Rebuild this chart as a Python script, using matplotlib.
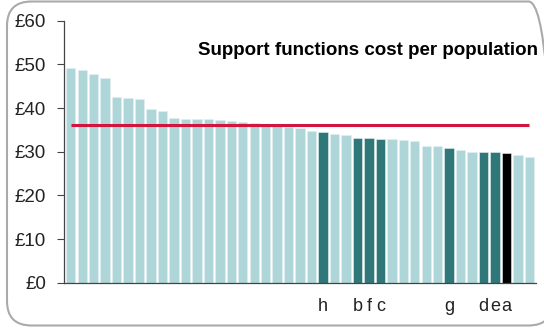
import numpy as np
import matplotlib
matplotlib.use('Agg')
import matplotlib.pyplot as plt
from matplotlib.patches import FancyBboxPatch

plt.rc('font', family=['Liberation Sans', 'DejaVu Sans'])

# cost per head for each authority, sorted high to low
costs = [49.2, 48.8, 47.8, 46.9, 42.5, 42.2, 42.1, 39.8, 39.4, 37.8,
         37.6, 37.6, 37.5, 37.2, 37.0, 36.9, 36.6, 36.4, 36.0, 35.6,
         35.5, 34.7, 34.5, 34.0, 33.8, 33.1, 33.1, 32.9, 32.8, 32.6,
         32.4, 31.3, 31.2, 30.8, 30.3, 30.0, 29.9, 29.9, 29.6, 29.2,
         28.8]
# '' = other authority, letter = highlighted one
labels = [''] * 22 + ['h', '', '', 'b', 'f', 'c', '', '', '', '', '',
                      'g', '', '', 'd', 'e', 'a', '', '']
average = 36.1
yticks = [0, 10, 20, 30, 40, 50, 60]

light = '#aed5d8'
dark = '#2f7779'

colors = []
for lab in labels:
    if lab == 'a':
        colors.append('black')
    elif lab:
        colors.append(dark)
    else:
        colors.append(light)

fig = plt.figure(figsize=(5.44, 3.29), dpi=100)
ax = fig.add_axes([64 / 544, 46.3 / 329, (535.7 - 64) / 544, 262 / 329])

x = np.arange(len(costs))
ax.bar(x, costs, width=0.82, color=colors, edgecolor='#e4f0f1', linewidth=0.4)
ax.plot([x[0], x[-1]], [average, average], color='#d1153d', lw=2.2, solid_capstyle='butt')

ax.set_xlim(-0.59, len(costs) - 0.45)
ax.set_ylim(0, 60)
ax.set_yticks(yticks)
ax.set_yticklabels(['£%d' % v for v in yticks], fontsize=13.5, color='#222222')
ax.set_xticks(x)
ax.set_xticklabels(labels, fontsize=13, color='#222222')
ax.tick_params(axis='x', length=0, pad=11)
ax.tick_params(axis='y', length=5, width=0.8, color='#444444', pad=8)
for s in ['top', 'right']:
    ax.spines[s].set_visible(False)
for s in ['left', 'bottom']:
    ax.spines[s].set_color('#444444')
    ax.spines[s].set_linewidth(0.9)

ax.text(1.005, 0.885, 'Support functions cost per population', transform=ax.transAxes,
        ha='right', va='center', fontsize=13.5, fontweight='bold')

# rounded frame around the whole chart, right side runs off the image
frame = FancyBboxPatch((7 / 544, 3.5 / 329), 546 / 544, 324 / 329,
                       boxstyle='round,pad=0,rounding_size=0.045',
                       transform=fig.transFigure, fill=False,
                       edgecolor='#aaaaaa', linewidth=1.5, mutation_aspect=544 / 329)
fig.patches.append(frame)

fig.savefig('out.png', dpi=100)
